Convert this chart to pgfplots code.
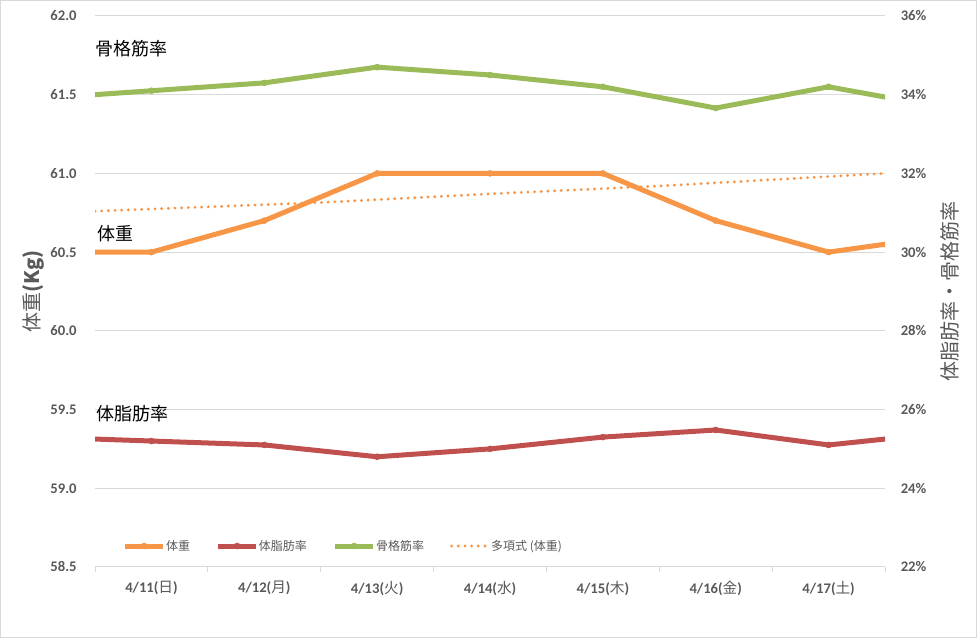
\documentclass[border=0pt]{standalone}
\usepackage{fontspec}
\setmainfont{Carlito}
\newfontfamily\jp{Noto Sans CJK JP}
\usepackage{pgfplots}
\pgfplotsset{compat=1.18}
\newcommand\dy[1]{{\jp\mdseries #1}}

\definecolor{wt}{HTML}{F79646}
\definecolor{fat}{HTML}{C0504D}
\definecolor{mus}{HTML}{9BBB59}
\definecolor{txt}{HTML}{595959}
\definecolor{gridc}{HTML}{D9D9D9}

\pgfplotsset{
  base/.style={
    scale only axis, width=592.5pt, height=413.25pt,
    xmin=-0.5, xmax=6.5,
    /pgf/number format/assume math mode=true,
    tick label style={font=\bfseries\fontsize{11}{13}\selectfont, text=txt},
    label style={font=\jp\fontsize{15}{17}\selectfont, text=txt},
  },
  lw/.style={line width=3.75pt, mark=*, mark size=2.3pt, mark options={solid, line width=0.3pt}},
  trend/.style={wt, line width=2.4pt, line cap=round, dash pattern=on 0pt off 5pt},
}

\begin{document}
\begin{tikzpicture}
\begin{axis}[base, name=ax,
  ymin=58.5, ymax=62, ytick={58.5,59,...,62},
  axis x line*=bottom, axis y line*=left,
  x axis line style={draw=gridc, line width=0.75pt},
  y axis line style={draw=none},
  xtick={-0.5,0.5,...,6.5}, x tick label as interval,
  xticklabels={4/11(\dy{日}),4/12(\dy{月}),4/13(\dy{火}),4/14(\dy{水}),4/15(\dy{木}),4/16(\dy{金}),4/17(\dy{土})},
  xtick style={draw=gridc, line width=0.75pt},
  ytick style={draw=none},
  major tick length=3.75pt, tick align=outside,
  xticklabel style={yshift=-3.5pt},
  yticklabel style={xshift=-6.5pt, /pgf/number format/fixed, /pgf/number format/fixed zerofill, /pgf/number format/precision=1},
  ymajorgrids, grid style={draw=gridc, line width=0.75pt},
  ylabel={体重\textbf{(Kg)}},
  ylabel style={at={(axis description cs:0,0.5)}, yshift=46.5pt, anchor=center},
]
\addplot[wt, lw] coordinates {
  (-1,60.5) (0,60.5) (1,60.7) (2,61.0) (3,61.0) (4,61.0) (5,60.7) (6,60.5) (7,60.6)
};
\addplot[trend] coordinates {
  (-0.5,60.76) (1.5,60.815) (3,60.87) (4.5,60.92) (6.5,61.0)
};
\node[anchor=west, inner sep=0pt, font=\jp\fontsize{13.5}{15}\selectfont] at (rel axis cs:0,0.940) {骨格筋率};
\node[anchor=west, inner sep=0pt, font=\jp\fontsize{13.5}{15}\selectfont] at (rel axis cs:0.003,0.605) {体重};
\node[anchor=west, inner sep=0pt, font=\jp\fontsize{13.5}{15}\selectfont] at (rel axis cs:0.001,0.278) {体脂肪率};
\end{axis}

\begin{axis}[base,
  ymin=22, ymax=36, ytick={22,24,...,36},
  hide x axis,
  axis y line*=right,
  y axis line style={draw=none},
  ytick style={draw=none},
  major tick length=3.75pt, tick align=outside,
  yticklabel={\pgfmathprintnumber{\tick}\%},
  yticklabel style={xshift=4.5pt},
  ylabel={体脂肪率・骨格筋率},
  ylabel style={at={(axis description cs:1,0.5)}, yshift=-48.75pt, anchor=center},
  legend style={at={(rel axis cs:0.030,0.038)}, anchor=west, draw=none, fill=none,
    font=\jp\fontsize{9}{11}\selectfont, text=txt,
    /tikz/every even column/.append style={column sep=19pt},
    nodes={inner sep=0.5pt}},
  legend columns=-1,
  legend image code/.code={\draw[mark repeat=2, mark phase=2, #1] plot coordinates {(0pt,0pt) (14pt,0pt) (28pt,0pt)};},
]
\addlegendimage{wt, lw}
\addlegendentry{体重}
\addplot[fat, lw] coordinates {
  (-1,25.3) (0,25.2) (1,25.1) (2,24.8) (3,25.0) (4,25.3) (5,25.48) (6,25.1) (7,25.4)
};
\addlegendentry{体脂肪率}
\addplot[mus, lw] coordinates {
  (-1,33.9) (0,34.1) (1,34.3) (2,34.7) (3,34.5) (4,34.2) (5,33.66) (6,34.2) (7,33.68)
};
\addlegendentry{骨格筋率}
\addlegendimage{trend}
\addlegendentry{多項式 (体重)}
\end{axis}

\draw[gridc, line width=0.75pt] ([xshift=-70.9pt, yshift=-52.9pt]ax.south west) rectangle ([xshift=68.6pt, yshift=11.6pt]ax.north east);
\end{tikzpicture}
\end{document}
